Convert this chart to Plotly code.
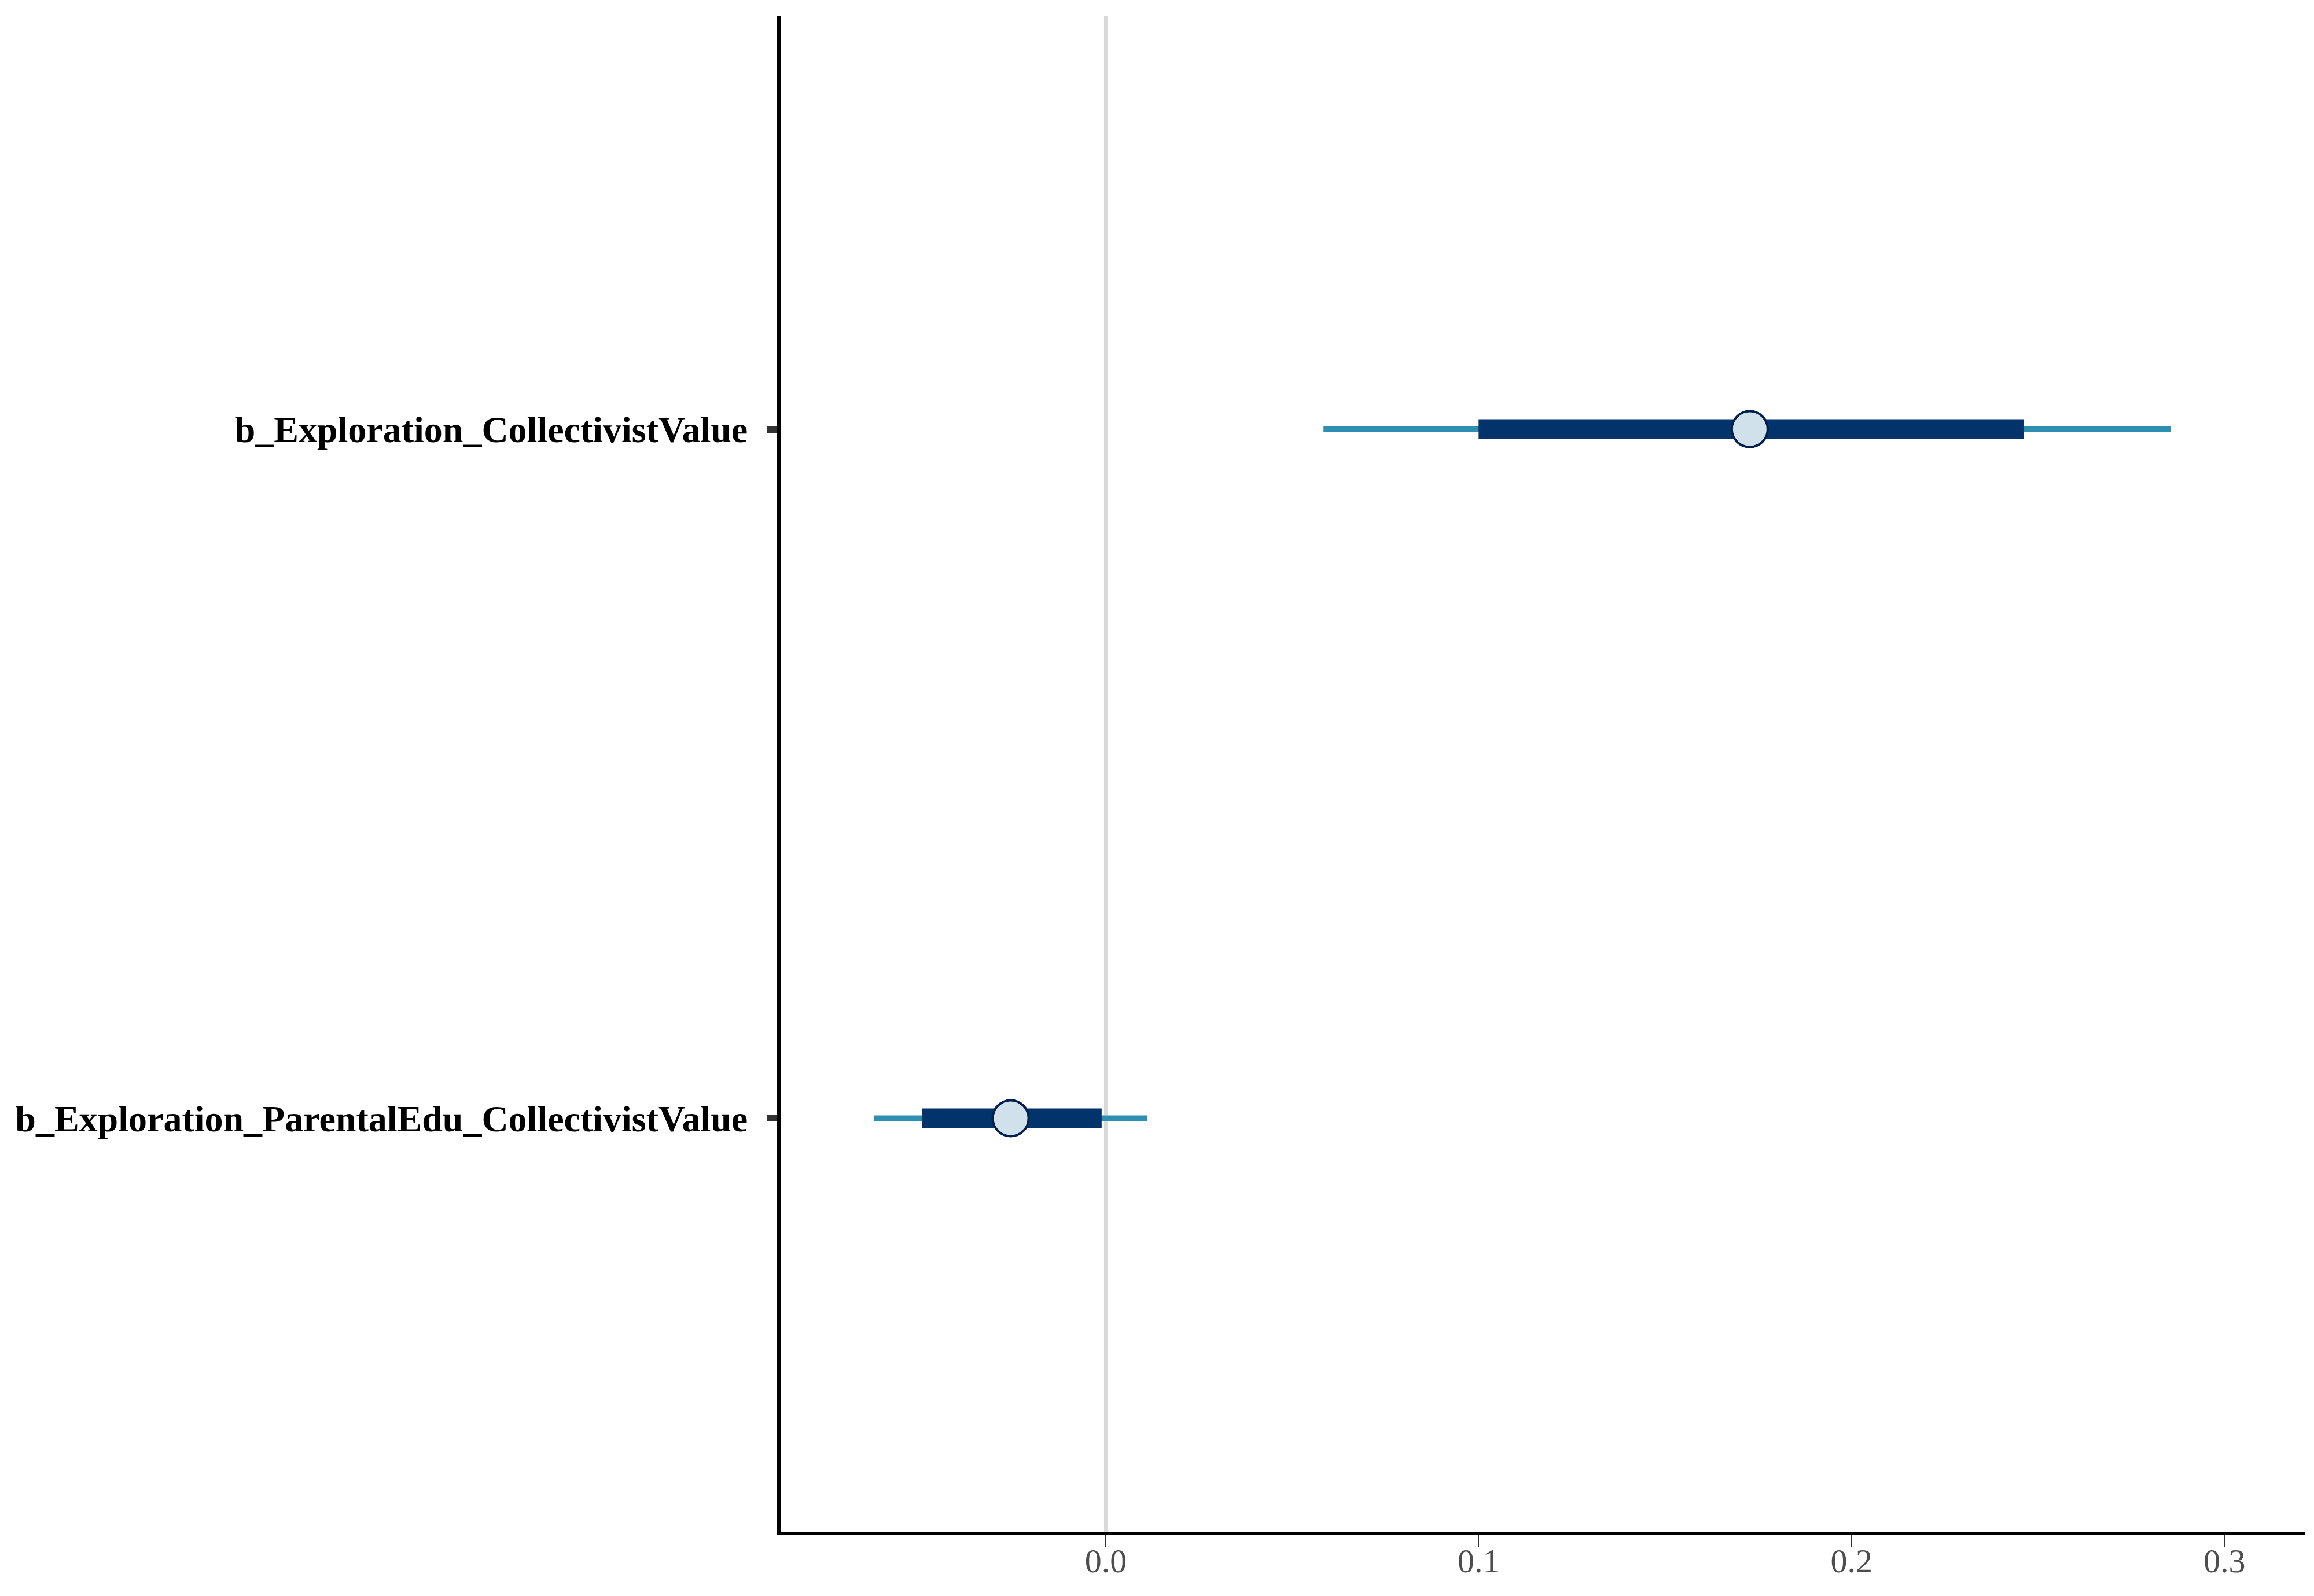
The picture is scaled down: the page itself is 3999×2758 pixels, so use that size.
import plotly.graph_objects as go

# Data
params = ["b_Exploration_ParentalEdu_CollectivistValue", "b_Exploration_CollectivistValue"]
outer_low = [-0.0621, 0.0584]
outer_high = [0.0112, 0.2857]
inner_low = [-0.0492, 0.1000]
inner_high = [-0.0011, 0.2462]
point_est = [-0.0255, 0.1727]
x_ticks = [0.0, 0.1, 0.2, 0.3]
x_tick_labels = ["0.0", "0.1", "0.2", "0.3"]

pos = list(range(1, len(params) + 1))

fig = go.Figure()

# zero reference line
fig.add_vline(x=0, line=dict(color="#d9d9d9", width=6), layer="below")

for i, p in enumerate(pos):
    fig.add_trace(go.Scatter(x=[outer_low[i], outer_high[i]], y=[p, p], mode="lines",
                             line=dict(color="#2f8fb0", width=10), showlegend=False, hoverinfo="skip"))
    fig.add_trace(go.Scatter(x=[inner_low[i], inner_high[i]], y=[p, p], mode="lines",
                             line=dict(color="#03336b", width=34), showlegend=False, hoverinfo="skip"))

fig.add_trace(go.Scatter(x=point_est, y=pos, mode="markers",
                         marker=dict(symbol="circle", size=62, color="#d1e1ec",
                                     line=dict(color="#011f4b", width=4)),
                         showlegend=False, hoverinfo="skip"))

fig.update_layout(
    template="none",
    width=3999, height=2758,
    margin=dict(l=1341, r=23, t=19, b=119, autoexpand=False),
    plot_bgcolor="white", paper_bgcolor="white",
    font=dict(family="Liberation Serif"),
)
fig.update_xaxes(
    range=[-0.0872, 0.3217], tickvals=x_ticks, ticktext=x_tick_labels,
    showgrid=False, zeroline=False, showline=True, linecolor="black", linewidth=6,
    ticks="outside", ticklen=20, tickwidth=2, tickcolor="#333333",
    tickfont=dict(family="Liberation Serif", size=58, color="#4d4d4d"),
    ticklabelstandoff=-26, automargin=False,
)
fig.update_yaxes(
    range=[0.4, len(params) + 0.6], tickvals=pos, ticktext=params,
    showgrid=False, zeroline=False, showline=True, linecolor="black", linewidth=6,
    ticks="outside", ticklen=18, tickwidth=12, tickcolor="#333333",
    tickfont=dict(family="Liberation Serif", size=64, color="black", weight="bold"),
    ticklabelstandoff=20, automargin=False,
)

fig.write_html("out.html")
